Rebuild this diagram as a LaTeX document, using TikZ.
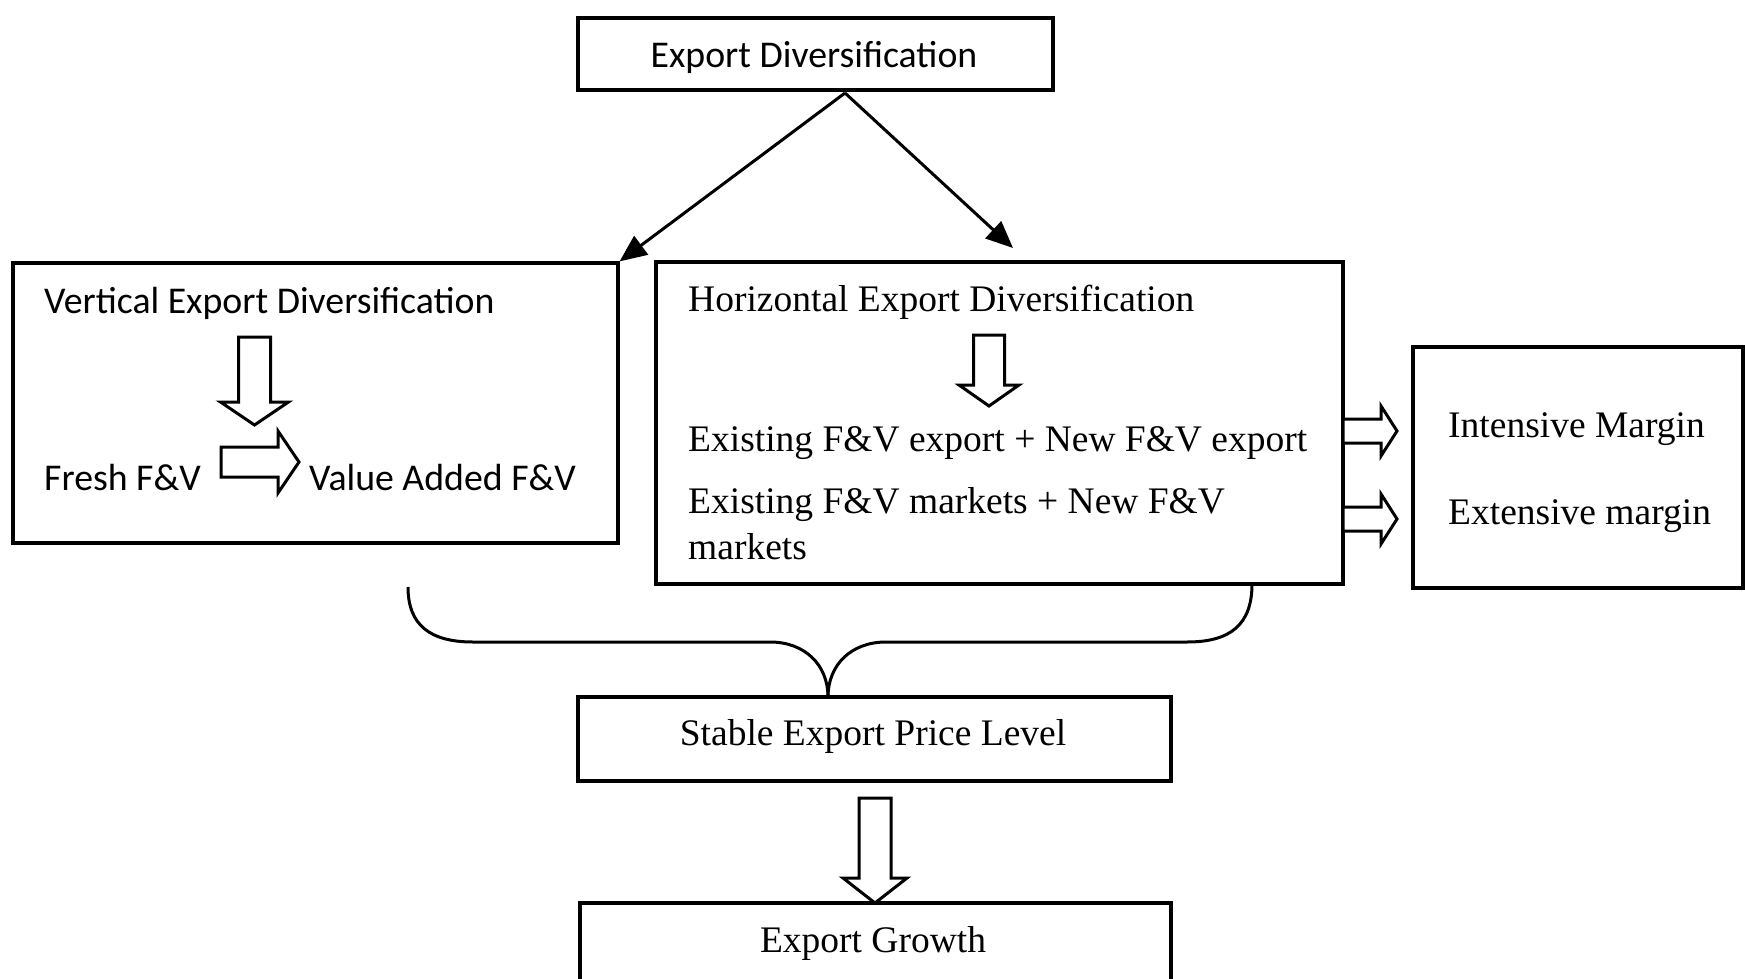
\documentclass[tikz,border=0pt]{standalone}
\usepackage{fontspec}
\setmainfont{Liberation Serif}
\newfontfamily\calib{Carlito}
\usetikzlibrary{arrows.meta}
\tikzset{
 box/.style={draw, line width=3.2pt, inner sep=0pt, rectangle},
 ser/.style={font=\fontsize{37.5}{44}\selectfont, inner sep=0pt},
 san/.style={font=\calib\fontsize{37.8}{44}\selectfont, inner sep=0pt},
 blk/.style={draw, line width=3pt, line join=miter, fill=white},
 conn/.style={line width=3pt, -{Triangle[length=27pt,width=23pt]}},
 bracepath/.style={line width=3pt}
}
\newcommand\dnblk[6]{\draw[blk] (#1-#5,#2) -- (#1+#5,#2) -- (#1+#5,#3) -- (#1+#6,#3) -- (#1,#4) -- (#1-#6,#3) -- (#1-#5,#3) -- cycle;}
\newcommand\rtblk[6]{\draw[blk] (#2,#1-#5) -- (#3,#1-#5) -- (#3,#1-#6) -- (#4,#1) -- (#3,#1+#6) -- (#3,#1+#5) -- (#2,#1+#5) -- cycle;}
\begin{document}
\begin{tikzpicture}[x=1pt,y=-1pt]
\useasboundingbox (0,0) rectangle (1745,979);
\clip (0,0) rectangle (1745,979);
% boxes
\node[box, minimum width=475pt, minimum height=72pt] (top) at (815.5,54) {};
\node[box, minimum width=605pt, minimum height=280pt] (vbox) at (315.5,403) {};
\node[box, minimum width=687pt, minimum height=322pt] (hbox) at (999.5,423) {};
\node[box, minimum width=330pt, minimum height=241pt] (rbox) at (1578,467.5) {};
\node[box, minimum width=593pt, minimum height=84pt] (stable) at (874.5,739) {};
\node[box, minimum width=591pt, minimum height=120pt] (growth) at (875.5,963) {};
% texts
\node[san, anchor=base] (toptxt) at (814,68) {Export Diversification};
\node[san, anchor=base west] (vt) at (44,313) {Vertical Export Diversification};
\node[san, anchor=base west] (fresh) at (44,490) {Fresh F\&V};
\node[san, anchor=base west] (va) at (309,490) {Value Added F\&V};
\node[ser, anchor=base west] (ht) at (688,311) {Horizontal Export Diversification};
\node[ser, anchor=base west] (h1) at (688,451) {Existing F\&V export + New F\&V export};
\node[ser, anchor=base west] (h2) at (688,513) {Existing F\&V markets + New F\&V};
\node[ser, anchor=base west] (h3) at (688,559) {markets};
\node[ser, anchor=base west] (im) at (1448,437) {Intensive Margin};
\node[ser, anchor=base west] (em) at (1448,524) {Extensive margin};
\node[ser, anchor=base] (st) at (873,745) {Stable Export Price Level};
\node[ser, anchor=base] (eg) at (873,952) {Export Growth};
% connectors
\coordinate (apex) at (845,93);
\coordinate (hend) at (1013,248);
\draw[conn] (apex) -- (vbox.north east);
\draw[conn] (apex) -- (hend);
% brace
\draw[bracepath] (408,587) .. controls (408,625) and (430,642) .. (473,642) -- (770,642) .. controls (805,642) and (828,665) .. (828,697);
\draw[bracepath] (828,697) .. controls (828,665) and (851,642) .. (886,642) -- (1187,642) .. controls (1230,642) and (1252,625) .. (1252,584);
% block arrows
\dnblk{254.5}{337}{402}{425}{16}{34}
\rtblk{462}{221}{278}{299}{15}{31}
\dnblk{989}{335}{385}{406}{15.5}{30}
\rtblk{431}{1343}{1381}{1397}{12}{25}
\rtblk{519}{1343}{1381}{1397}{12}{25}
\dnblk{875}{798}{878}{903}{16}{32}
\end{tikzpicture}
\end{document}
